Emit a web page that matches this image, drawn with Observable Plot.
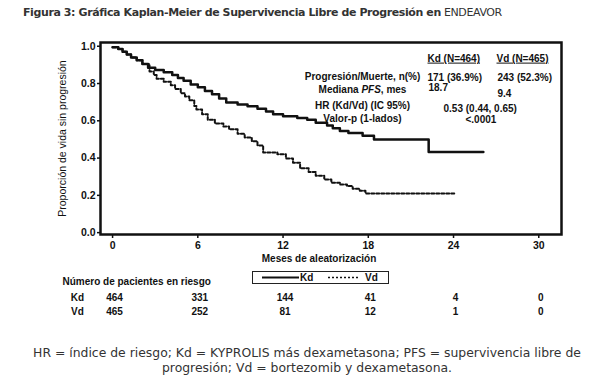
<!DOCTYPE html>
<html><head><meta charset="utf-8">
<script src="https://cdn.jsdelivr.net/npm/d3@7"></script>
<script src="https://cdn.jsdelivr.net/npm/@observablehq/plot@0.6"></script>
<style>
body{margin:0;background:#fff;}
#wrap{position:relative;width:614px;height:385px;overflow:hidden;font-family:"Liberation Sans",Arial,sans-serif;}
#title{position:absolute;left:23px;top:5px;font-family:"DejaVu Sans",Verdana,sans-serif;font-size:11px;letter-spacing:-0.4px;line-height:16px;color:#333;white-space:nowrap;}
#title b{font-weight:bold}
#chart{position:absolute;left:0;top:30px;}
#legend{position:absolute;left:252px;top:271px;width:135px;height:11px;border:1.5px solid #222;font-weight:bold;font-size:10px;line-height:11px;color:#111;}
#legend span{position:absolute;top:0;}
#legend svg{position:absolute;top:4px;}
#caption{position:absolute;left:0;width:614px;top:345px;text-align:center;font-family:"DejaVu Sans",Verdana,sans-serif;font-size:12.4px;line-height:15px;color:#333;}
</style></head>
<body>
<div id="wrap">
  <div id="title"><b>Figura 3: Gráfica Kaplan-Meier de Supervivencia Libre de Progresión en</b> ENDEAVOR</div>
  <div id="chart"></div>
  <div id="legend">
    <svg style="left:9px" width="37" height="3"><line x1="0" y1="1.5" x2="37" y2="1.5" stroke="#111" stroke-width="2"/></svg>
    <span style="left:47px">Kd</span>
    <svg style="left:75px" width="31" height="3"><line x1="0" y1="1.5" x2="31" y2="1.5" stroke="#111" stroke-width="1.6" stroke-dasharray="2,2"/></svg>
    <span style="left:112px">Vd</span>
  </div>
  <div id="caption">HR = índice de riesgo; Kd = KYPROLIS más dexametasona; PFS = supervivencia libre de<br>progresión; Vd = bortezomib y dexametasona.</div>
</div>
<script>
// Tick months and patients at risk
const months = [0, 6, 12, 18, 24, 30];
const kdRisk = [464, 331, 144, 41, 4, 0];
const vdRisk = [465, 252, 81, 12, 1, 0];
const yTicks = [0, 0.2, 0.4, 0.6, 0.8, 1.0];

// Kaplan-Meier step curves
const kdMonths = [0, 0.4, 0.7, 1.0, 1.3, 1.7, 2.1, 2.5, 3.0, 3.6, 4.2, 4.6, 5.0, 5.5, 6.0, 6.5, 7.0, 7.5, 8.0, 8.8, 9.5, 10.2, 10.8, 11.3, 12.0, 13.0, 13.7, 14.3, 15.1, 15.5, 16.0, 16.6, 17.6, 18.4, 22.25, 26.1];
const kdSurv   = [0.995, 0.985, 0.97, 0.955, 0.94, 0.925, 0.905, 0.885, 0.872, 0.86, 0.845, 0.83, 0.815, 0.795, 0.78, 0.76, 0.742, 0.72, 0.698, 0.688, 0.678, 0.665, 0.65, 0.635, 0.625, 0.615, 0.605, 0.59, 0.575, 0.56, 0.545, 0.535, 0.52, 0.5, 0.432, 0.432];
const vdMonths = [0, 0.4, 0.7, 1.0, 1.3, 1.7, 2.1, 2.6, 2.9, 3.1, 3.6, 4.1, 4.4, 4.8, 5.1, 5.4, 5.75, 5.9, 6.3, 6.7, 7.2, 7.8, 8.2, 8.8, 9.3, 9.8, 10.2, 10.6, 11.6, 12.2, 12.7, 13.2, 13.8, 14.3, 14.9, 15.4, 16.0, 16.5, 16.9, 17.4, 17.8, 24.1];
const vdSurv   = [0.995, 0.985, 0.97, 0.955, 0.94, 0.925, 0.905, 0.865, 0.845, 0.825, 0.81, 0.79, 0.77, 0.748, 0.73, 0.71, 0.68, 0.66, 0.635, 0.605, 0.585, 0.57, 0.555, 0.53, 0.51, 0.49, 0.468, 0.43, 0.42, 0.398, 0.375, 0.345, 0.325, 0.305, 0.285, 0.268, 0.258, 0.25, 0.235, 0.225, 0.21, 0.21];

const kd = kdMonths.map((m, i) => ({m, s: kdSurv[i]}));
const vd = vdMonths.map((m, i) => ({m, s: vdSurv[i]}));

const ink = "#111";
const t = (text, o) => Plot.text([text], {text: d => d, fill: ink, fontWeight: "bold", fontSize: 10, ...o});

const chart = Plot.plot({
  width: 614, height: 300,
  marginLeft: 100, marginRight: 53, marginTop: 12, marginBottom: 96,
  style: {fontFamily: "'Liberation Sans', Arial, sans-serif", fontSize: "10px", color: ink, background: "transparent", overflow: "visible"},
  x: {domain: [-0.85, 31.6]},
  y: {domain: [-0.01, 1.02]},
  marks: [
    Plot.axisX({ticks: months, tickSize: 4, tickPadding: 3, fontWeight: "bold", fontSize: 10.5, label: null, strokeWidth: 1.5}),
    Plot.axisY({ticks: yTicks, tickFormat: ".1f", tickSize: 3, tickPadding: 2, fontWeight: "bold", fontSize: 10.5, label: null, strokeWidth: 1.5}),
    Plot.line(vd, {x: "m", y: "s", curve: "step-after", stroke: ink, strokeWidth: 2, strokeDasharray: "3,2"}),
    Plot.line(kd, {x: "m", y: "s", curve: "step-after", stroke: ink, strokeWidth: 2.5}),
    Plot.frame({stroke: ink, strokeWidth: 2.5}),
    // axis titles
    t("Proporción de vida sin progresión", {frameAnchor: "left", textAnchor: "middle", rotate: -90, dx: -38, fontWeight: "normal", fontSize: 10.5}),
    t("Meses de aleatorización", {frameAnchor: "bottom", textAnchor: "middle", dx: -12, dy: 27}),
    // in-plot stats table
    t("Kd (N=464)", {frameAnchor: "top-left", textAnchor: "start", dx: 327, dy: 12}),
    t("Vd (N=465)", {frameAnchor: "top-left", textAnchor: "start", dx: 396, dy: 12}),
    t("Progresión/Muerte, n(%)", {frameAnchor: "top-left", textAnchor: "middle", dx: 262, dy: 30}),
    t("Mediana PFS, mes", {frameAnchor: "top-left", textAnchor: "middle", dx: 262, dy: 43}),
    t("HR (Kd/Vd) (IC 95%)", {frameAnchor: "top-left", textAnchor: "middle", dx: 262, dy: 59}),
    t("Valor-p (1-lados)", {frameAnchor: "top-left", textAnchor: "middle", dx: 262, dy: 72}),
    t("171 (36.9%)", {frameAnchor: "top-left", textAnchor: "start", dx: 327, dy: 31}),
    t("243 (52.3%)", {frameAnchor: "top-left", textAnchor: "start", dx: 397, dy: 31}),
    t("18.7", {frameAnchor: "top-left", textAnchor: "start", dx: 328, dy: 41}),
    t("9.4", {frameAnchor: "top-left", textAnchor: "start", dx: 397, dy: 47}),
    t("0.53 (0.44, 0.65)", {frameAnchor: "top-left", textAnchor: "start", dx: 343, dy: 62}),
    t("<.0001", {frameAnchor: "top-left", textAnchor: "start", dx: 365, dy: 73}),
    // risk table
    t("Número de pacientes en riesgo", {frameAnchor: "bottom-left", textAnchor: "start", dx: -38, dy: 50}),
    t("Kd", {frameAnchor: "bottom-left", textAnchor: "middle", dx: -23, dy: 66}),
    t("Vd", {frameAnchor: "bottom-left", textAnchor: "middle", dx: -23, dy: 80}),
    Plot.text(months, {x: d => d, text: (d, i) => kdRisk[i], frameAnchor: "bottom", textAnchor: "middle", dy: 66, dx: 2, fill: ink, fontWeight: "bold", fontSize: 10}),
    Plot.text(months, {x: d => d, text: (d, i) => vdRisk[i], frameAnchor: "bottom", textAnchor: "middle", dy: 80, dx: 2, fill: ink, fontWeight: "bold", fontSize: 10})
  ]
});
document.getElementById("chart").appendChild(chart);

const svg = d3.select(chart);
svg.selectAll("text").each(function() {
  const s = d3.select(this);
  const c = this.textContent;
  if (c === "Kd (N=464)" || c === "Vd (N=465)") s.style("text-decoration", "underline");
  if (c === "Mediana PFS, mes") s.html('Mediana <tspan font-style="italic">PFS</tspan>, mes');
});
</script>
</body></html>
